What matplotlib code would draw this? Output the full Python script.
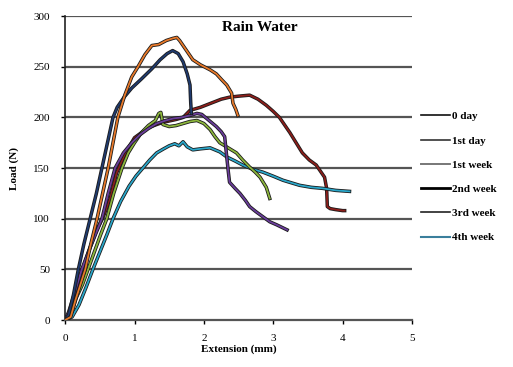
import matplotlib
matplotlib.use('Agg')
import matplotlib.pyplot as plt
import matplotlib.patheffects as pe
from matplotlib.lines import Line2D

# Load-extension curves
day0_x = [0, 0.05, 0.12, 0.19, 0.27, 0.36, 0.45, 0.53, 0.61, 0.69, 0.75, 0.85, 0.96, 1.1, 1.25, 1.37, 1.47, 1.55, 1.63, 1.7, 1.76, 1.8, 1.81, 1.82]
day0_y = [0, 5, 25, 50, 75, 100, 125, 150, 175, 200, 210, 220, 229, 238, 248, 257, 263, 266, 263, 255, 243, 232, 215, 204]

day1_x = [0, 0.08, 0.15, 0.22, 0.29, 0.37, 0.46, 0.54, 0.62, 0.69, 0.76, 0.86, 0.96, 1.05, 1.15, 1.25, 1.35, 1.46, 1.55, 1.61, 1.65, 1.75, 1.84, 1.95, 2.09, 2.18, 2.26, 2.33, 2.4, 2.42, 2.46, 2.49]
day1_y = [0, 3, 20, 35, 50, 75, 100, 125, 150, 175, 200, 222, 240, 250, 262, 271, 272, 276, 278, 279, 276, 266, 257, 252, 247, 243, 237, 232, 224, 214, 208, 202]

week1_x = [0, 0.08, 0.16, 0.25, 0.33, 0.42, 0.51, 0.6, 0.7, 0.82, 0.91, 1.0, 1.1, 1.2, 1.3, 1.35, 1.38, 1.41, 1.5, 1.6, 1.7, 1.8, 1.9, 2.0, 2.09, 2.16, 2.23, 2.35, 2.47, 2.56, 2.66, 2.74, 2.81, 2.9, 2.95]
week1_y = [0, 5, 22, 35, 50, 67, 84, 100, 125, 150, 165, 175, 185, 192, 197, 204, 205, 193, 191, 192, 194, 196, 197, 194, 188, 181, 175, 170, 165, 158, 151, 146, 141, 131, 120]

week2_x = [0, 0.07, 0.15, 0.25, 0.35, 0.45, 0.55, 0.65, 0.74, 0.87, 1.0, 1.2, 1.4, 1.6, 1.7, 1.8, 1.95, 2.1, 2.25, 2.37, 2.5, 2.66, 2.78, 2.9, 3.0, 3.09, 3.17, 3.24, 3.33, 3.42, 3.52, 3.62, 3.68, 3.74, 3.77, 3.78, 3.82, 3.9, 4.0, 4.03]
week2_y = [0, 4, 22, 50, 70, 88, 102, 120, 145, 165, 180, 190, 195, 198, 200, 207, 210, 214, 218, 220, 221, 222, 218, 212, 206, 200, 192, 185, 175, 165, 158, 153, 147, 141, 130, 112, 110, 109, 108, 108]

week3_x = [0, 0.05, 0.13, 0.24, 0.34, 0.44, 0.53, 0.62, 0.72, 0.84, 0.96, 1.08, 1.2, 1.32, 1.45, 1.56, 1.68, 1.8, 1.9, 1.97, 2.04, 2.11, 2.18, 2.25, 2.3, 2.33, 2.35, 2.37, 2.45, 2.52, 2.6, 2.66, 2.75, 2.85, 2.95, 3.05, 3.14, 3.2]
week3_y = [0, 8, 25, 50, 68, 85, 100, 125, 150, 165, 175, 183, 189, 194, 197, 199, 200, 202, 204, 203, 199, 195, 191, 186, 181, 161, 148, 136, 130, 125, 118, 112, 107, 102, 97, 94, 91, 89]

week4_x = [0, 0.1, 0.2, 0.3, 0.4, 0.5, 0.6, 0.69, 0.8, 0.92, 1.02, 1.12, 1.22, 1.32, 1.42, 1.5, 1.58, 1.64, 1.7, 1.76, 1.84, 1.95, 2.09, 2.23, 2.33, 2.45, 2.56, 2.7, 2.85, 3.0, 3.14, 3.38, 3.55, 3.71, 3.9, 4.1]
week4_y = [0, 3, 15, 32, 50, 67, 84, 100, 117, 132, 142, 150, 158, 165, 169, 172, 174, 172, 176, 171, 168, 169, 170, 166, 161, 157, 153, 149, 146, 142, 138, 133, 131, 130, 128, 127]

labels = ['0 day', '1st day', '1st week', '2nd week', '3rd week', '4th week']

plt.rcParams['font.family'] = 'Liberation Serif'

fig = plt.figure(figsize=(5.13, 3.67), dpi=100)
ax = fig.add_axes([0.127, 0.128, 0.676, 0.828])

for v in range(50, 301, 50):
    ax.axhline(v, color='#555555', lw=1.6, zorder=1)

series = [
    (week2_x, week2_y, '#8b1e1a'),
    (week4_x, week4_y, '#2aa6c9'),
    (week1_x, week1_y, '#8cb63c'),
    (week3_x, week3_y, '#6a3d9a'),
    (day0_x, day0_y, '#1f3a6e'),
    (day1_x, day1_y, '#e8792a'),
]
for xs, ys, c in series:
    ax.plot(xs, ys, color=c, lw=1.3, zorder=3,
            path_effects=[pe.Stroke(linewidth=2.5, foreground='#1a1a1a'), pe.Normal()])

ax.set_xlim(0, 5)
ax.set_ylim(0, 300)
ax.set_xticks(range(0, 6))
ax.set_yticks(range(0, 301, 50))
ax.tick_params(labelsize=8, length=3, width=1, direction='out')
ax.tick_params(axis='x', pad=7)
ax.tick_params(axis='y', pad=8)
for s in ['top', 'right']:
    ax.spines[s].set_visible(False)
ax.spines['left'].set_color('#222222')
ax.spines['left'].set_linewidth(1.2)
ax.spines['bottom'].set_color('#555555')
ax.spines['bottom'].set_linewidth(1.6)

ax.set_xlabel('Extension (mm)', fontsize=8, fontweight='bold', labelpad=1)
ax.set_ylabel('Load (N)', fontsize=8, fontweight='bold', labelpad=10)
ax.text(2.8, 289, 'Rain Water', fontsize=11, fontweight='bold', ha='center', va='center')

handles = [
    Line2D([], [], color='#111111', lw=1.2),
    Line2D([], [], color='#333333', lw=1.2),
    Line2D([], [], color='#777777', lw=1.4),
    Line2D([], [], color='#000000', lw=2.0),
    Line2D([], [], color='#222222', lw=1.2),
    Line2D([], [], color='#3a7f9c', lw=1.5),
]
fig.legend(handles, labels, loc='upper left', bbox_to_anchor=(0.812, 0.708),
           frameon=False, fontsize=8, handlelength=2.6, handletextpad=0.15,
           labelspacing=1.3, borderaxespad=0,
           prop={'weight': 'bold', 'size': 8})

fig.savefig('out.png', dpi=100)
